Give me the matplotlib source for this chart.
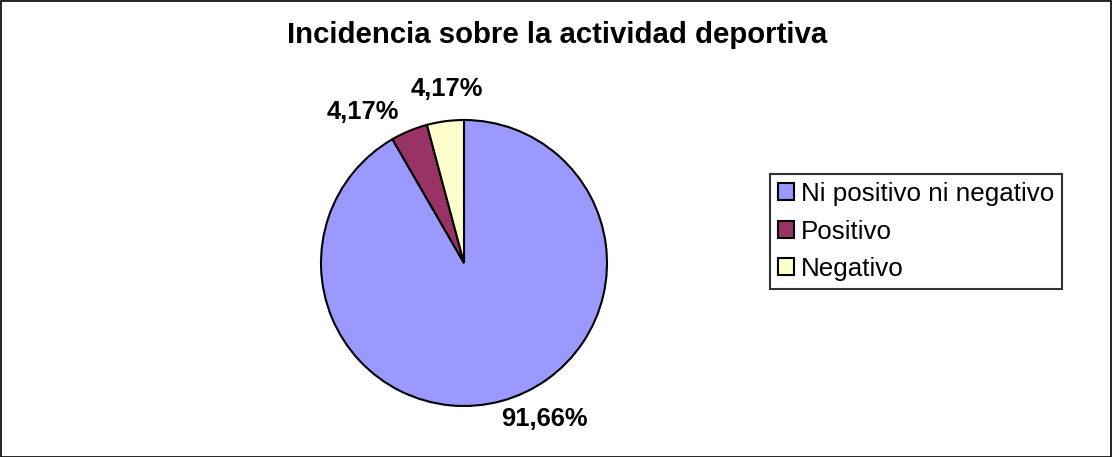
import numpy as np
import matplotlib.pyplot as plt
from matplotlib.patches import Rectangle

# data
categories = ['Ni positivo ni negativo', 'Positivo', 'Negativo']
shares = [91.66, 4.17, 4.17]
pct_labels = ['91,66%', '4,17%', '4,17%']
colors = ['#9999FF', '#993366', '#FFFFCC']

plt.rcParams['font.family'] = ['Liberation Sans', 'DejaVu Sans']

W, H = 1113, 457
fig = plt.figure(figsize=(W / 100, H / 100), dpi=100)

# outer chart border
fig.patches.append(Rectangle((0.0005, 0.001), 0.998, 0.997, transform=fig.transFigure,
                             fill=False, edgecolor='black', linewidth=1.2))

fig.text(557 / W, 1 - 43 / H, 'Incidencia sobre la actividad deportiva',
         ha='center', va='baseline', fontsize=21.2, fontweight='bold')

# pie placement in pixels
cx, cy, r = 464, 263, 143
ax = fig.add_axes([(cx - r) / W, (H - cy - r) / H, 2 * r / W, 2 * r / H])
wedges, texts = ax.pie(shares, colors=colors, startangle=90, counterclock=False,
                       wedgeprops=dict(edgecolor='black', linewidth=1.5))
ax.set_xlim(-1, 1)
ax.set_ylim(-1, 1)
ax.set_aspect('equal')
ax.axis('off')

# percentage labels outside each wedge (angle shift in degrees, radius)
label_pos = [(12.3, 1.23), (11.3, 1.27), (-1.8, 1.22)]
for w, txt, (dang, rad) in zip(wedges, pct_labels, label_pos):
    ang = np.deg2rad((w.theta1 + w.theta2) / 2 + dang)
    ax.text(rad * np.cos(ang), rad * np.sin(ang), txt, ha='center', va='center',
            fontsize=18.4, fontweight='bold', clip_on=False)

leg = fig.legend(wedges, categories, loc='center left',
                 bbox_to_anchor=(770 / W, 1 - 231.5 / H), fontsize=18.7,
                 frameon=True, fancybox=False, handlelength=0.62, handleheight=0.62,
                 handletextpad=0.27, labelspacing=0.52, borderpad=0.3,
                 borderaxespad=0)
leg.get_frame().set_edgecolor('black')
leg.get_frame().set_linewidth(1.5)
for h in leg.legend_handles:
    h.set_linewidth(1.5)

fig.savefig('out.png', dpi=100)
